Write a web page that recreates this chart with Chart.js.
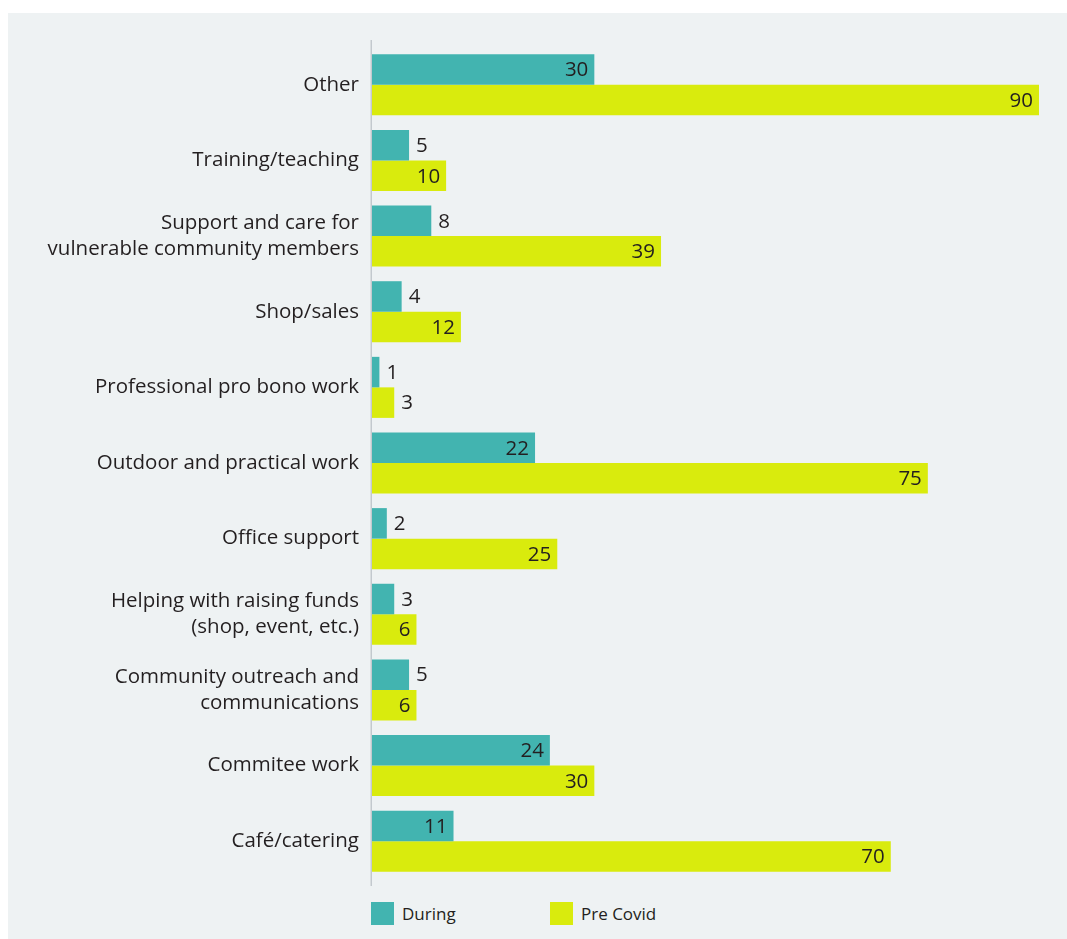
<!DOCTYPE html>
<html>
<head>
<meta charset="utf-8">
<script src="https://cdn.jsdelivr.net/npm/chart.js@4/dist/chart.umd.min.js"></script>
<style>
  html, body { margin: 0; padding: 0; background: #ffffff; }
  body { width: 1067px; height: 939px; position: relative; overflow: hidden; font-family: "Open Sans", sans-serif; }
  #panel { position: absolute; left: 8px; top: 13px; width: 1059px; height: 926px; background: #eef2f3; }
  #chartBox { position: absolute; left: 0; top: 0; width: 1059px; height: 880px; }
  #legend { position: absolute; left: 363px; top: 889px; display: flex; }
  .legend-item { display: flex; align-items: center; width: 179px; font-size: 17px; color: #231f20; }
  .legend-swatch { width: 23px; height: 23px; margin-right: 8px; }
</style>
</head>
<body>
<div id="panel">
  <div id="chartBox"><canvas id="chart"></canvas></div>
  <div id="legend"></div>
</div>
<script>
// Chart data
const categories = [
  'Other',
  'Training/teaching',
  ['Support and care for', 'vulnerable community members'],
  'Shop/sales',
  'Professional pro bono work',
  'Outdoor and practical work',
  'Office support',
  ['Helping with raising funds', '(shop, event, etc.)'],
  ['Community outreach and', 'communications'],
  'Commitee work',
  'Café/catering'
];
const duringValues = [30, 5, 8, 4, 1, 22, 2, 3, 5, 24, 11];
const preCovidValues = [90, 10, 39, 12, 3, 75, 25, 6, 6, 30, 70];

const TEXT_COLOR = '#231f20';
const FONT = '"Open Sans", sans-serif';

/**
 * Draws the value next to each bar: inside the bar end when the value is
 * large enough for the dataset, otherwise just past the bar end.
 */
const valueLabelPlugin = {
  id: 'valueLabels',
  afterDatasetsDraw(chart) {
    const ctx = chart.ctx;
    ctx.save();
    ctx.font = '20.5px ' + FONT;
    ctx.fillStyle = TEXT_COLOR;
    ctx.textBaseline = 'middle';
    chart.data.datasets.forEach((ds, i) => {
      const meta = chart.getDatasetMeta(i);
      meta.data.forEach((bar, j) => {
        const v = ds.data[j];
        if (v >= ds.insideFrom) {
          ctx.textAlign = 'right';
          ctx.fillText(String(v), bar.x - 6, bar.y + 1);
        } else {
          ctx.textAlign = 'left';
          ctx.fillText(String(v), bar.x + 7, bar.y + 1);
        }
      });
    });
    ctx.restore();
  }
};

/**
 * Vertical axis line that runs slightly past the plot area
 */
const axisLinePlugin = {
  id: 'axisLine',
  beforeDatasetsDraw(chart) {
    const { ctx, chartArea } = chart;
    ctx.save();
    ctx.strokeStyle = '#c3c9ce';
    ctx.lineWidth = 1.5;
    ctx.beginPath();
    ctx.moveTo(chartArea.left - 0.75, chartArea.top - 7);
    ctx.lineTo(chartArea.left - 0.75, chartArea.bottom + 7);
    ctx.stroke();
    ctx.restore();
  }
};

const chart = new Chart(document.getElementById('chart'), {
  type: 'bar',
  data: {
    labels: categories,
    datasets: [
      {
        label: 'During',
        data: duringValues,
        backgroundColor: '#42b4b0',
        insideFrom: 10
      },
      {
        label: 'Pre Covid',
        data: preCovidValues,
        backgroundColor: '#d9eb0d',
        insideFrom: 6
      }
    ]
  },
  options: {
    indexAxis: 'y',
    responsive: true,
    maintainAspectRatio: false,
    animation: false,
    layout: {
      padding: { top: 34, right: 28, bottom: 14, left: 0 }
    },
    datasets: {
      bar: {
        barPercentage: 1.0,
        categoryPercentage: 0.807
      }
    },
    plugins: {
      legend: { display: false },
      tooltip: { enabled: false }
    },
    scales: {
      x: {
        display: false,
        min: 0,
        max: 90
      },
      y: {
        grid: { display: false, drawTicks: false },
        border: { display: false },
        ticks: {
          color: TEXT_COLOR,
          padding: 13,
          font: { family: FONT, size: 20.5, lineHeight: 1.27 }
        },
        afterFit(scale) {
          scale.width = 364;
          scale.paddingTop = 0;
          scale.paddingBottom = 0;
        }
      }
    }
  },
  plugins: [valueLabelPlugin, axisLinePlugin]
});

// HTML legend built from the datasets
const legendEl = document.getElementById('legend');
chart.data.datasets.forEach(ds => {
  const item = document.createElement('div');
  item.className = 'legend-item';
  const swatch = document.createElement('span');
  swatch.className = 'legend-swatch';
  swatch.style.background = ds.backgroundColor;
  item.appendChild(swatch);
  item.appendChild(document.createTextNode(ds.label));
  legendEl.appendChild(item);
});
</script>
</body>
</html>
